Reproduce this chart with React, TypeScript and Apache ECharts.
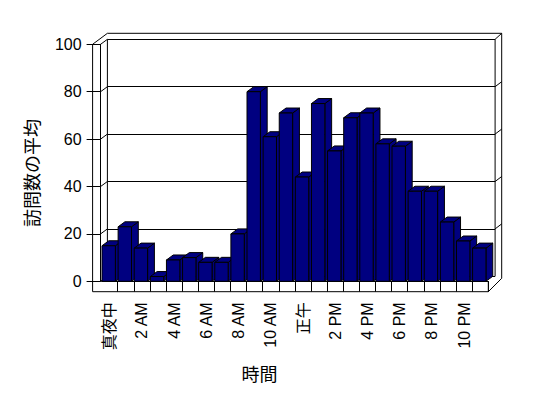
import React, { useEffect, useRef } from "react";
import * as echarts from "echarts";

const categories = [
  "真夜中", "1 AM", "2 AM", "3 AM", "4 AM", "5 AM", "6 AM", "7 AM", "8 AM", "9 AM", "10 AM", "11 AM",
  "正午", "1 PM", "2 PM", "3 PM", "4 PM", "5 PM", "6 PM", "7 PM", "8 PM", "9 PM", "10 PM", "11 PM",
];
const visits = [15, 23, 14, 2, 9, 10, 8, 8, 20, 80, 61, 71, 44, 75, 55, 69, 71, 58, 57, 38, 38, 25, 17, 14];
const yTicks = [0, 20, 40, 60, 80, 100];
const yAxisTitle = "訪問数の平均";
const xAxisTitle = "時間";

const FONT = "'Liberation Sans', 'Noto Sans CJK JP', sans-serif";
const BAR = "#000080";

// layout
const GL = 101.6, GR = 488.3, GT = 44.3, GB = 281.3;
const DX = 6.8, DY = -5;

export default function App() {
  const ref = useRef<HTMLDivElement>(null);
  useEffect(() => {
    if (!ref.current) return;
    const chart = echarts.init(ref.current, null, { renderer: "svg" });
    const FL = GL - 1;
    const BL = FL + DX, BR = GR + DX, BT = GT + DY, BB = GB + DY;
    chart.setOption({
      animation: false,
      backgroundColor: "#fff",
      grid: [
        { left: GL, top: GT, width: GR - GL, height: GB - GT },
        { left: BL, top: BT, width: BR - BL, height: GB - GT },
      ],
      xAxis: [
        {
          type: "category",
          gridIndex: 0,
          data: categories,
          boundaryGap: true,
          axisLine: { show: true, lineStyle: { color: "#000", width: 1 } },
          axisTick: {
            show: true,
            interval: (index: number) => index !== 0,
            length: 10.4,
            lineStyle: { color: "#000" },
          },
          axisLabel: {
            interval: 1,
            rotate: 90,
            margin: 21,
            color: "#000",
            fontSize: 16,
            fontFamily: FONT,
          },
          splitLine: { show: false },
        },
        { type: "category", gridIndex: 1, data: categories, show: false },
      ],
      yAxis: [
        {
          type: "value",
          gridIndex: 0,
          min: 0,
          max: 100,
          interval: 20,
          offset: 1,
          axisLine: { show: true, lineStyle: { color: "#000", width: 1 } },
          axisTick: { show: true, length: 14, lineStyle: { color: "#000" } },
          axisLabel: { margin: 19, color: "#000", fontSize: 16, fontFamily: FONT },
          splitLine: { show: false },
        },
        {
          type: "value",
          gridIndex: 1,
          min: 0,
          max: 100,
          interval: 20,
          axisLine: { show: false },
          axisTick: { show: false },
          axisLabel: { show: false },
          splitLine: { show: true, lineStyle: { color: "#000", width: 1 } },
        },
      ],
      series: [
        {
          type: "custom",
          xAxisIndex: 0,
          yAxisIndex: 0,
          z: 10,
          clip: false,
          data: visits.map((v, i) => [i, v]),
          renderItem: (params: any, api: any) => {
            const i = api.value(0);
            const v = api.value(1);
            const top = api.coord([i, v]);
            const base = api.coord([i, 0]);
            const w = api.size([1, 0])[0];
            const x0 = top[0] - w / 2 + 0.4;
            const fw = w * 0.83;
            const x1 = x0 + fw;
            const yT = top[1];
            const yB = base[1];
            const style = { fill: BAR, stroke: "#000", lineWidth: 1 };
            return {
              type: "group",
              children: [
                {
                  type: "polygon",
                  shape: { points: [[x1, yB], [x1, yT], [x1 + DX, yT + DY], [x1 + DX, yB + DY]] },
                  style,
                },
                {
                  type: "polygon",
                  shape: { points: [[x0, yT], [x1, yT], [x1 + DX, yT + DY], [x0 + DX, yT + DY]] },
                  style,
                },
                { type: "rect", shape: { x: x0, y: yT, width: fw, height: yB - yT }, style },
              ],
            };
          },
        },
      ],
    });

    const SX = FL - 8;
    const floorY = GB + 10.4;
    const OT = BT - 6;
    const OR = BR + 6.6;
    const ln = (x1: number, y1: number, x2: number, y2: number) => ({
      type: "line",
      z: 1,
      shape: { x1, y1, x2, y2 },
      style: { stroke: "#000", lineWidth: 1 },
      silent: true,
    });
    const lines: any[] = [
      ln(SX, GT, SX, floorY),
      ln(SX, floorY, GR, floorY),
      ln(GR, GB, GR, floorY),
      ln(GR, floorY, OR, BB + 2),
      ln(OR, OT, OR, BB + 2),
      ln(BL, OT, OR, OT),
      ln(SX, GT, BL, OT),
      ln(BR, BT, OR, OT),
      ln(BL, BT, BL, BB),
      ln(BR, BT, BR, BB),
    ];
    yTicks.forEach((t) => {
      const fy = chart.convertToPixel({ yAxisIndex: 0 }, t) as number;
      const by = chart.convertToPixel({ yAxisIndex: 1 }, t) as number;
      lines.push(ln(FL, fy, BL, by));
      if (t > 0 && t < 100) lines.push(ln(BR, by, OR, by - 5));
    });
    lines.push({
      type: "text",
      z: 1,
      x: (GL + GR) / 2 - 35.5,
      y: 375,
      style: {
        text: xAxisTitle,
        font: `18px ${FONT}`,
        fill: "#000",
        align: "center",
        verticalAlign: "middle",
      },
    });
    lines.push({
      type: "text",
      z: 1,
      x: 32.5,
      y: 173,
      rotation: Math.PI / 2,
      style: {
        text: yAxisTitle,
        font: `18px ${FONT}`,
        fill: "#000",
        align: "center",
        verticalAlign: "middle",
      },
    });
    chart.setOption({ graphic: lines });
    return () => chart.dispose();
  }, []);
  return (
    <div
      ref={ref}
      style={{ position: "fixed", left: 0, top: 0, width: 548, height: 398, background: "#fff" }}
    />
  );
}
